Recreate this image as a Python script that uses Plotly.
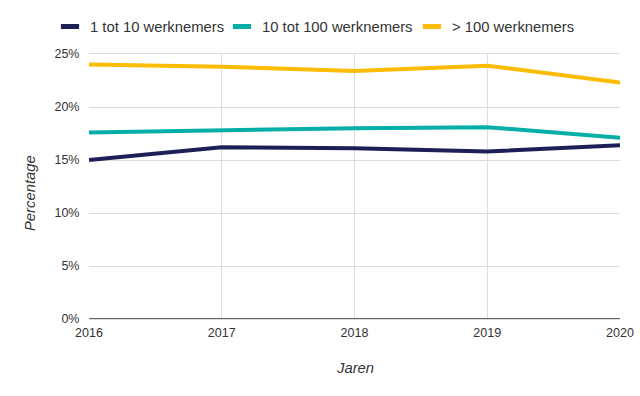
import plotly.graph_objects as go

years = [2016, 2017, 2018, 2019, 2020]
klein = [15.0, 16.2, 16.1, 15.8, 16.4]
middel = [17.6, 17.8, 18.0, 18.1, 17.1]
groot = [24.0, 23.8, 23.4, 23.9, 22.3]
names = ["1 tot 10 werknemers", "10 tot 100 werknemers", "> 100 werknemers"]
colors = ["#1d1f57", "#05afa7", "#fbbc05"]
legend_ids = ["legend", "legend2", "legend3"]
legend_x = [50, 222, 412]

fig = go.Figure()
for n, vals, c, lg in zip(names, [klein, middel, groot], colors, legend_ids):
    fig.add_trace(go.Scatter(x=years, y=[v / 100 for v in vals], mode="lines", name=n,
                             line=dict(color=c, width=4), showlegend=False))
    # legend entry drawn as a short thick bar, like the reference
    fig.add_trace(go.Scatter(x=[None], y=[None], mode="markers", name=n, legend=lg,
                             marker=dict(symbol="line-ew", size=13, color=c,
                                         line=dict(color=c, width=5))))

legend_common = dict(orientation="h", xref="container", yref="container",
                     xanchor="left", y=1 - 27 / 396, yanchor="middle",
                     font=dict(size=14.8, color="#333"), itemwidth=30,
                     bgcolor="rgba(0,0,0,0)")
fig.update_layout(
    width=640, height=396,
    margin=dict(l=89, r=20, t=54, b=77, autoexpand=False),
    paper_bgcolor="white", plot_bgcolor="white",
    font=dict(family="Arial", size=12.5, color="#333"),
    legend=dict(x=legend_x[0] / 640, **legend_common),
    legend2=dict(x=legend_x[1] / 640, **legend_common),
    legend3=dict(x=legend_x[2] / 640, **legend_common),
    showlegend=True,
)
fig.update_xaxes(range=[2016, 2020], tickvals=years, ticktext=[str(y) for y in years],
                 showgrid=True, gridcolor="#dddddd", gridwidth=1, zeroline=False,
                 showline=True, linecolor="#dddddd", mirror=True,
                 ticks="outside", ticklen=2, tickcolor="rgba(0,0,0,0)",
                 tickfont=dict(size=12.5, color="#333"))
fig.update_yaxes(range=[0, 0.25], tickvals=[0, 0.05, 0.10, 0.15, 0.20, 0.25],
                 tickformat=".0%", showgrid=True, gridcolor="#dddddd", gridwidth=1,
                 zeroline=False, showline=False,
                 ticks="outside", ticklen=6, tickcolor="rgba(0,0,0,0)",
                 tickfont=dict(size=12.5, color="#333"))
fig.add_shape(type="line", xref="paper", yref="y", x0=0, x1=1, y0=0, y1=0,
              line=dict(color="#333333", width=1.5))
# axis titles
fig.add_annotation(text="<i>Jaren</i>", xref="paper", yref="paper", x=0.5, y=0,
                   yshift=-(368 - 319), xanchor="center", yanchor="middle", showarrow=False,
                   font=dict(size=14.8, color="#333"))
fig.add_annotation(text="<i>Percentage</i>", xref="paper", yref="paper", x=0, y=(319 - 193) / 265,
                   xshift=30 - 89, xanchor="center", yanchor="middle", showarrow=False,
                   textangle=-90, font=dict(size=14.8, color="#333"))
fig.write_html("out.html", config={"displayModeBar": False},
               post_script="document.body.style.margin='0';")
